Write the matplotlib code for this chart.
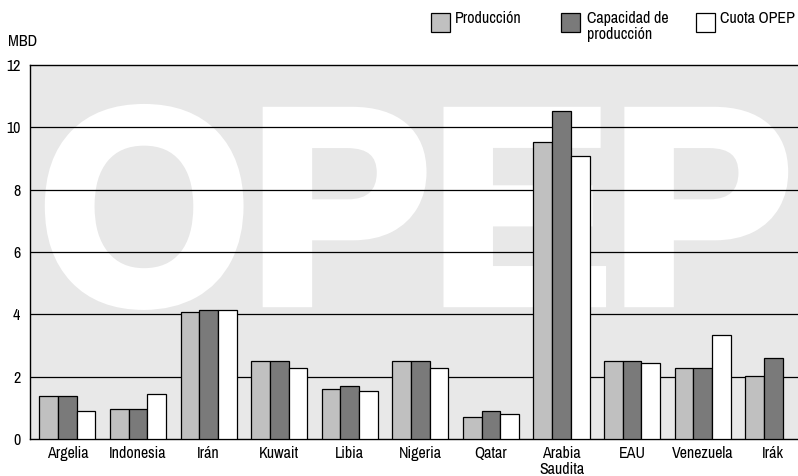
import numpy as np
import matplotlib.pyplot as plt
from matplotlib.patches import Rectangle, PathPatch
from matplotlib.textpath import TextPath
from matplotlib.transforms import Affine2D
from matplotlib import font_manager as fm

paises = ['Argelia', 'Indonesia', 'Irán', 'Kuwait', 'Libia', 'Nigeria', 'Qatar',
          'Arabia\nSaudita', 'EAU', 'Venezuela', 'Irák']
produccion = [1.37, 0.97, 4.06, 2.51, 1.61, 2.51, 0.72, 9.54, 2.51, 2.27, 2.02]
capacidad = [1.37, 0.97, 4.14, 2.51, 1.69, 2.51, 0.89, 10.52, 2.51, 2.27, 2.59]
cuota = [0.89, 1.45, 4.14, 2.27, 1.54, 2.27, 0.79, 9.08, 2.43, 3.34, None]
y_ticks = [0, 2, 4, 6, 8, 10, 12]

# pick installed fonts
names = {f.name for f in fm.fontManager.ttflist}
narrow = next((n for n in ['Liberation Sans Narrow', 'Archivo Narrow', 'PT Sans Narrow',
                           'Roboto Condensed', 'Arimo'] if n in names), 'DejaVu Sans')
bold_files = [f.fname for f in fm.fontManager.ttflist
              if 'LiberationSans-Bold.' in f.fname]
if bold_files:
    wm_font = fm.FontProperties(fname=bold_files[0])
else:
    wm_font = fm.FontProperties(family='DejaVu Sans', weight='bold')

plt.rcParams['font.family'] = [narrow, 'DejaVu Sans']
plt.rcParams['font.size'] = 11.5

fig = plt.figure(figsize=(7.98, 4.76), dpi=100)
ax = fig.add_axes([30 / 798, 37 / 476, 768 / 798, 374 / 476])
ax.set_facecolor('#e8e8e8')

x = np.arange(len(paises))
w = 0.265
ax.bar(x - w, produccion, w, color='#c0c0c0', edgecolor='black', linewidth=0.9, zorder=3)
ax.bar(x, capacidad, w, color='#7a7a7a', edgecolor='black', linewidth=0.9, zorder=3)
xq = [xi + w for xi, v in zip(x, cuota) if v is not None]
vq = [v for v in cuota if v is not None]
ax.bar(xq, vq, w, color='white', edgecolor='black', linewidth=0.9, zorder=3)

for t in y_ticks[1:-1]:
    ax.axhline(t, color='black', linewidth=0.9, zorder=2)

ax.set_xlim(-0.53, 10.35)
ax.set_ylim(0, 12)
ax.set_yticks(y_ticks)
ax.set_xticks(x)
ax.set_xticklabels(paises, linespacing=1.05)
ax.tick_params(axis='both', length=0)
ax.tick_params(axis='y', pad=7)
ax.tick_params(axis='x', pad=5)
ax.spines['right'].set_visible(False)
for s in ['left', 'top', 'bottom']:
    ax.spines[s].set_linewidth(1.0)

# watermark "OPEP" fitted to box (figure pixels: x 50..783, cap 112..302), thickened by stroke
tp = TextPath((0, 0), 'OPEP', size=100, prop=wm_font)
ext = tp.get_extents()
cap = TextPath((0, 0), 'E', size=100, prop=wm_font).get_extents().ymax
x0, x1 = (50 - 30) / 768, (783 - 30) / 768
yb, yt = (439 - 302) / 374, (439 - 112) / 374
tr = (Affine2D().translate(-ext.xmin, 0)
      .scale((x1 - x0) / ext.width, (yt - yb) / cap)
      .translate(x0, yb) + ax.transAxes)
ax.add_patch(PathPatch(tp, facecolor='white', edgecolor='white', linewidth=7.5,
                       joinstyle='miter', transform=tr, zorder=1))

fig.text(8 / 798, 1 - 42 / 476, 'MBD', ha='left', va='center')

# legend
items = [(431, '#c0c0c0', 455, 'Producción'),
         (561, '#7a7a7a', 587, 'Capacidad de\nproducción'),
         (696, 'white', 720, 'Cuota OPEP')]
for bx, col, tx, lab in items:
    fig.add_artist(Rectangle((bx / 798, 1 - 32 / 476), 19 / 798, 19 / 476,
                             facecolor=col, edgecolor='black', linewidth=0.9,
                             transform=fig.transFigure))
    fig.text(tx / 798, 1 - 11 / 476, lab, ha='left', va='top', linespacing=1.1)

fig.savefig('out.png', dpi=100)
